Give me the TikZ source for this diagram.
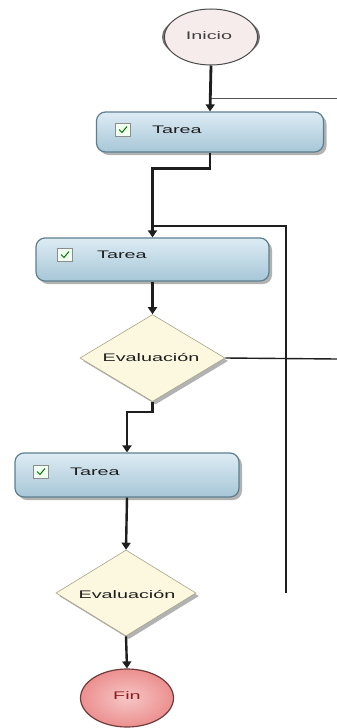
\documentclass[tikz,border=0pt]{standalone}
\usepackage{fontspec}
\setmainfont{Liberation Sans}
\usepackage{graphicx}
\usetikzlibrary{shapes.geometric,arrows.meta,shadows,calc}

\definecolor{taskTop}{HTML}{DDECF4}
\definecolor{taskBot}{HTML}{A6C6D7}
\definecolor{taskEdge}{HTML}{5E7F8E}
\definecolor{decFill}{HTML}{FBF8DF}
\definecolor{decEdge}{HTML}{A9A48A}
\definecolor{startFill}{HTML}{F7ECEC}
\definecolor{startEdge}{HTML}{4A4A4A}
\definecolor{endIn}{HTML}{F7C6C6}
\definecolor{endOut}{HTML}{EC8F8F}
\definecolor{endEdge}{HTML}{6E3C3C}
\definecolor{endInk}{HTML}{8A1F1F}
\definecolor{flowInk}{HTML}{1E1E1E}
\definecolor{thinInk}{HTML}{555555}

\newcommand{\wide}[1]{\scalebox{1.8}[1]{#1}}

\begin{document}
\begin{tikzpicture}[x=1pt,y=-1pt,
  softshadow/.style={drop shadow={shadow xshift=3pt,shadow yshift=-3pt,fill=black!55,opacity=.55}},
  task/.style={rectangle, rounded corners=9pt, minimum width=#1, inner sep=0pt,
    draw=taskEdge, line width=1.2pt, top color=taskTop, bottom color=taskBot, softshadow},
  decision/.style={diamond, minimum width=#1, inner sep=0pt,
    draw=decEdge, line width=0.6pt, fill=decFill, softshadow},
  startev/.style={ellipse, minimum width=93pt, minimum height=56pt, inner sep=0pt,
    draw=startEdge, line width=1pt, fill=startFill},
  endev/.style={ellipse, minimum width=93pt, minimum height=58pt, inner sep=0pt,
    draw=endEdge, line width=1.2pt, inner color=endIn, outer color=endOut},
  lbl/.style={font=\fontsize{11}{13}\selectfont, text=flowInk, inner sep=0pt},
  chk/.style={rectangle, minimum width=15pt, minimum height=13pt, inner sep=0pt,
    draw=black!45, line width=0.6pt, fill=green!6},
  tick/.style={draw=green!45!black, line width=1pt},
  flow/.style={draw=flowInk, line width=2.4pt, -{Triangle[length=7pt,width=9pt]}},
  loopline/.style={draw=flowInk, line width=1.8pt},
  thinline/.style={draw=thinInk, line width=0.9pt}
]
\useasboundingbox (0,0) rectangle (337,728);
\fill[white] (0,0) rectangle (337,728);

% start event with darker rim on the sides
\fill[black!55] (211,37) ellipse [x radius=49pt, y radius=25pt];
\node[startev] (i) at (211,37) {};
\node[lbl, text=black!75] (ilbl) at (209,36) {\wide{Inicio}};

% tasks
\node[task=227pt, minimum height=40pt] (t1) at (210,132) {};
\node[task=233pt, minimum height=43pt] (t2) at (152.5,259.5) {};
\node[task=224pt, minimum height=44pt] (t3) at (127,475) {};

\node[lbl, anchor=west] (t1lbl) at (152,130) {\wide{Tarea}};
\node[lbl, anchor=west] (t2lbl) at (97,255) {\wide{Tarea}};
\node[lbl, anchor=west] (t3lbl) at (70,472) {\wide{Tarea}};

\foreach \n/\x/\y in {c1/123/130, c2/65/255, c3/41/472} {
  \node[chk] (\n) at (\x,\y) {};
  \draw[tick] ($(\n.center)+(-4,-0.5)$) -- ++(3,3) -- ++(5,-6);
}

% decisions
\node[decision=145pt, minimum height=87pt] (d1) at (152.5,358) {};
\node[decision=140pt, minimum height=86pt] (d2) at (126,593) {};
\node[lbl] (d1lbl) at (151,357) {\wide{Evaluación}};
\node[lbl] (d2lbl) at (127,594) {\wide{Evaluación}};

% end event
\node[endev] (fin) at (127,698) {};
\node[lbl, text=endInk] (finlbl) at (127,696) {\wide{Fin}};

% free ends of the open connectors
\coordinate (j1) at (211,98);
\coordinate (e1) at (337,98);
\coordinate (l1) at (286,226);
\coordinate (l2) at (286,593);
\coordinate (e2) at (337,359);

% connectors
\draw[thinline] (j1) -- (e1);
\draw[flow, line width=2.8pt] (i.south) -- (t1.north);
\draw[flow] (t1.south) -- ++(0,16) -| (t2.north);
\draw[loopline] (t2.north |- l1) -- (l1) -- (l2);
\draw[flow] (t2.south) -- (d1.north);
\draw[loopline, line width=1.4pt] (d1.east) -- (e2);
\draw[flow] (d1.south) -- ++(0,10) -| (t3.north);
\draw[flow] (t3.south) -- (d2.north);
\draw[flow] (d2.south) -- (fin.north);
\end{tikzpicture}
\end{document}
